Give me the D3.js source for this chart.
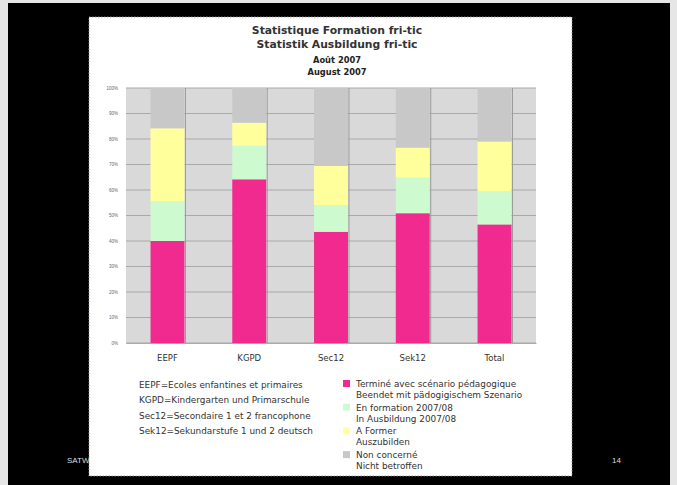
<!DOCTYPE html>
<html>
<head>
<meta charset="utf-8">
<script src="https://cdn.jsdelivr.net/npm/d3@7"></script>
<style>
  body { margin: 0; background: #e6e6e6; }
  svg { display: block; font-family: 'DejaVu Sans', sans-serif; }
</style>
</head>
<body>
<div id="chart"></div>
<script>
// Data
const categories = ['EEPF', 'KGPD', 'Sec12', 'Sek12', 'Total'];
const termine = [40, 64.2, 43.6, 50.9, 46.5];
const enFormation = [15.5, 13.1, 10.5, 13.9, 13.1];
const aFormer = [28.7, 9.1, 15.3, 11.8, 19.4];
const nonConcerne = [15.8, 13.6, 30.6, 23.4, 21];
const yTicks = [0, 10, 20, 30, 40, 50, 60, 70, 80, 90, 100];
const seriesKeys = ['termine', 'enFormation', 'aFormer', 'nonConcerne'];
const seriesLabels = [
  ['Terminé avec scénario pédagogique', 'Beendet mit pädogigischem Szenario'],
  ['En formation 2007/08', 'In Ausbildung 2007/08'],
  ['A Former', 'Auszubilden'],
  ['Non concerné', 'Nicht betroffen'],
];
const abbrevNotes = [
  'EEPF=Ecoles enfantines et primaires',
  'KGPD=Kindergarten und Primarschule',
  'Sec12=Secondaire 1 et 2 francophone',
  'Sek12=Sekundarstufe 1 und 2 deutsch',
];
const titles = ['Statistique Formation fri-tic', 'Statistik Ausbildung fri-tic'];
const subtitles = ['Août 2007', 'August 2007'];

const colors = ['#f02a8e', '#cdfbcf', '#ffff9c', '#c8c8c8'];

// Variables
const W = 677;
const H = 485;
const plot = { left: 126, right: 536, top: 88, bottom: 343 };
const cx = 337;

const table = categories.map((c, i) => ({
  cat: c,
  termine: termine[i],
  enFormation: enFormation[i],
  aFormer: aFormer[i],
  nonConcerne: nonConcerne[i],
}));
const stacked = d3.stack().keys(seriesKeys)(table);

const svg = d3
  .select('#chart')
  .append('svg')
  .attr('width', W)
  .attr('height', H);

// slide frame
svg.append('rect').attr('x', 8).attr('y', 3).attr('width', 662).attr('height', 482).attr('fill', '#000');

svg.append('text').attr('x', 67).attr('y', 463).attr('fill', '#ddd').attr('font-size', '8px')
  .attr('font-family', 'Liberation Sans, Arial, sans-serif').text('SATW');
svg.append('text').attr('x', 612).attr('y', 463).attr('fill', '#ddd').attr('font-size', '8px')
  .attr('font-family', 'Liberation Sans, Arial, sans-serif').text('14');

// white picture
svg.append('rect').attr('x', 89).attr('y', 17).attr('width', 483).attr('height', 459)
  .attr('fill', '#fff').attr('stroke', '#999').attr('stroke-width', 0.8).attr('stroke-dasharray', '1.5,1.5');

// titles
titles.forEach((t, i) => {
  svg.append('text').attr('x', cx).attr('y', 34 + i * 14).attr('text-anchor', 'middle')
    .attr('font-size', '10.8px').attr('font-weight', 'bold').attr('fill', '#333').text(t);
});
subtitles.forEach((t, i) => {
  svg.append('text').attr('x', cx).attr('y', 63 + i * 12).attr('text-anchor', 'middle')
    .attr('font-size', '8.3px').attr('font-weight', 'bold').attr('fill', '#222').text(t);
});

// Scales
const xScale = d3.scaleBand().domain(categories).range([plot.left, plot.right]).paddingInner(0.585).paddingOuter(0.3);
const yScale = d3.scaleLinear().domain([0, 100]).range([plot.bottom, plot.top]);

// plot background
svg.append('rect').attr('x', plot.left).attr('y', plot.top)
  .attr('width', plot.right - plot.left).attr('height', plot.bottom - plot.top).attr('fill', '#d9d9d9');

// gridlines
svg.selectAll('.hgrid').data(yTicks).enter().append('line')
  .attr('x1', plot.left).attr('x2', plot.right)
  .attr('y1', d => yScale(d)).attr('y2', d => yScale(d))
  .attr('stroke', '#a9a9a9').attr('stroke-width', 1);

svg.selectAll('.vgrid').data(categories).enter().append('line')
  .attr('x1', d => xScale(d) + xScale.bandwidth() + 1).attr('x2', d => xScale(d) + xScale.bandwidth() + 1)
  .attr('y1', plot.top).attr('y2', plot.bottom)
  .attr('stroke', '#9a9a9a').attr('stroke-width', 1);

// bars
svg.selectAll('.series').data(stacked).enter().append('g')
  .attr('fill', (d, i) => colors[i])
  .selectAll('rect').data(d => d).enter().append('rect')
  .attr('x', d => xScale(d.data.cat))
  .attr('y', d => yScale(d[1]))
  .attr('width', xScale.bandwidth())
  .attr('height', d => yScale(d[0]) - yScale(d[1]));

// axes
const yAxis = d3.axisLeft(yScale).tickValues(yTicks).tickFormat(d => d + '%').tickSize(0).tickPadding(8);
svg.append('g').attr('transform', `translate(${plot.left}, 0)`).call(yAxis)
  .call(g => g.select('.domain').remove())
  .selectAll('text').attr('font-size', '4.5px').attr('fill', '#666');

const xAxis = d3.axisBottom(xScale).tickSize(0).tickPadding(12);
svg.append('g').attr('transform', `translate(0, ${plot.bottom})`).call(xAxis)
  .call(g => g.select('.domain').attr('stroke', '#aaa'))
  .selectAll('text').attr('font-size', '8.5px').attr('fill', '#333')
  .attr('font-family', 'DejaVu Sans, sans-serif');

// abbreviation notes
abbrevNotes.forEach((t, i) => {
  svg.append('text').attr('x', 139).attr('y', 388 + i * 15.3)
    .attr('font-size', '8.9px').attr('fill', '#333').text(t);
});

// legend
seriesLabels.forEach((lines, i) => {
  const y0 = 380 + i * 23.7;
  svg.append('rect').attr('x', 343).attr('y', y0).attr('width', 7).attr('height', 7).attr('fill', colors[i]);
  lines.forEach((l, j) => {
    svg.append('text').attr('x', 356).attr('y', y0 + 7 + j * 11)
      .attr('font-size', '8.9px').attr('fill', '#333').text(l);
  });
});
</script>
</body>
</html>
